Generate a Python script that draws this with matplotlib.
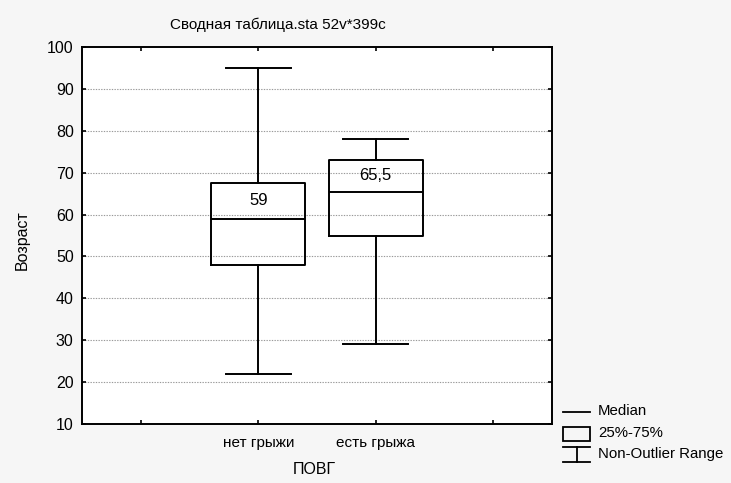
import matplotlib
matplotlib.use("Agg")
import matplotlib.pyplot as plt
from matplotlib.lines import Line2D
from matplotlib.patches import Rectangle

plt.rcParams['font.family'] = ['Liberation Sans', 'DejaVu Sans']
plt.rcParams['font.size'] = 11

categories = ["нет грыжи", "есть грыжа"]
positions = [1, 2]
whisker_low = [22, 29]
q1 = [48, 55]
median = [59, 65.5]
q3 = [67.5, 73]
whisker_high = [95, 78]
median_labels = ["59", "65,5"]

fig = plt.figure(figsize=(7.31, 4.83), dpi=100, facecolor='#f6f6f6')
ax = fig.add_axes([82/731, 1-424/483, (552-82)/731, (424-47)/483])
ax.set_facecolor('white')

stats = []
for i in range(len(categories)):
    stats.append(dict(med=median[i], q1=q1[i], q3=q3[i],
                      whislo=whisker_low[i], whishi=whisker_high[i],
                      fliers=[], label=categories[i]))
lw = 1.4
ax.bxp(stats, positions=positions, widths=0.8, capwidths=0.55,
       showfliers=False, manage_ticks=False,
       boxprops=dict(color='black', linewidth=lw),
       medianprops=dict(color='black', linewidth=lw),
       whiskerprops=dict(color='black', linewidth=lw),
       capprops=dict(color='black', linewidth=lw))

for p, m, q, lab in zip(positions, median, q3, median_labels):
    ax.text(p, (m + q) / 2, lab, ha='center', va='center', fontsize=12)

ax.set_xlim(-0.5, 3.5)
ax.set_ylim(10, 100)
ax.set_yticks(range(10, 101, 10))
ax.set_xticks([0, 1, 2, 3])
ax.set_xticklabels(["", categories[0], categories[1], ""])
ax.tick_params(direction='in', length=3, width=1.2, top=True, right=True,
               labelsize=11.5, pad=6)
ax.tick_params(axis='x', pad=9, labelsize=11)
for yv in range(20, 100, 10):
    ax.axhline(yv, color='#999999', linestyle=(0, (1.2, 1.2)), linewidth=0.8, zorder=0)
for s in ax.spines.values():
    s.set_linewidth(1.4)

fig.text(278/731, 1-25/483, "Сводная таблица.sta 52v*399c", ha='center', va='center', fontsize=11)
fig.text(22/731, 1-240/483, "Возраст", rotation=90, ha='center', va='center', fontsize=11.5)
fig.text(314/731, 1-470/483, "ПОВГ", ha='center', va='center', fontsize=11.5)

# legend
def fx(x): return x / 731
def fy(y): return 1 - y / 483
k = dict(color='black', linewidth=1.3)
fig.add_artist(Line2D([fx(563), fx(590)], [fy(412), fy(412)], **k))
fig.add_artist(Rectangle((fx(563), fy(441)), fx(590) - fx(563), fy(427) - fy(441),
                         fill=False, edgecolor='black', linewidth=1.3))
fig.add_artist(Line2D([fx(563), fx(590)], [fy(447), fy(447)], **k))
fig.add_artist(Line2D([fx(563), fx(590)], [fy(462), fy(462)], **k))
fig.add_artist(Line2D([fx(576.5), fx(576.5)], [fy(447), fy(462)], **k))
fig.text(fx(598), fy(411), "Median", va='center', fontsize=10.8)
fig.text(fx(598), fy(433), "25%-75%", va='center', fontsize=10.8)
fig.text(fx(598), fy(454), "Non-Outlier Range", va='center', fontsize=10.8)

fig.savefig("out.png", dpi=100, facecolor=fig.get_facecolor())
